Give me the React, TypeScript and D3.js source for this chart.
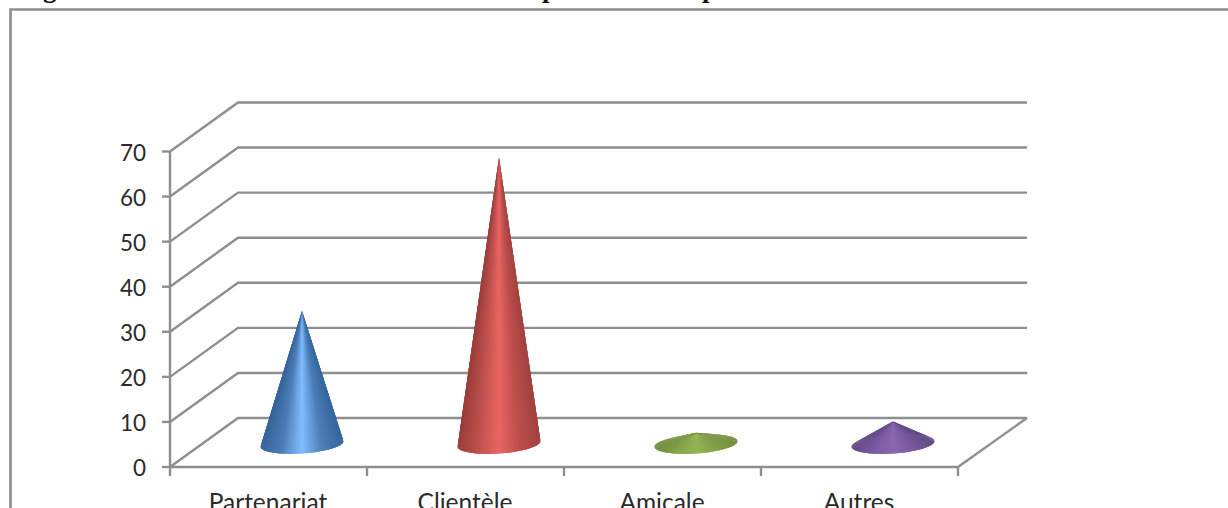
import React from "react";
import * as d3 from "d3";

// Chart values
const categories = ["Partenariat", "Clientèle", "Amicale", "Autres"];
const shares = [29.5, 63.5, 2.5, 5];
const yTicks = [0, 10, 20, 30, 40, 50, 60, 70];
const coneStops = [
  ["#35649a", "#4c7cb6", "#82bdff", "#4c7eb8", "#35659a"],
  ["#9a3c3a", "#bf514e", "#e96561", "#bd4f4c", "#a04240"],
  ["#718e3c", "#88a64c", "#94b356", "#86a34a", "#738f3e"],
  ["#644b86", "#7c5ca4", "#8a68b0", "#7a5ba0", "#634a85"],
];

const WIDTH = 1228;
const HEIGHT = 508;
const AXIS = "#8e8e8e";
const INK = "#2a2a2a";
const DEPTH_X = 69;
const DEPTH_Y = 49;
const BASE_RX = 41.5;
const BASE_RY = 9.5;
const BASE_TILT = (-4 * Math.PI) / 180;
const FACETS = 72;

const x = d3.scaleBand<string>().domain(categories).range([170, 958]);
const y = d3.scaleLinear().domain([0, 70]).range([467, 151.5]);

// Cones stand in the middle of the floor, half way to the back wall
const coneX = (c: string) => (x(c) as number) + x.bandwidth() / 2 + DEPTH_X / 2 - 1;
const coneY = (v: number) => y(v) - DEPTH_Y / 2 + 1.5;

const facetPath = d3.line();

// The cone is a fan of thin triangles from the tip to the tilted base ellipse,
// shaded by horizontal position so that the highlight narrows towards the tip.
// Each triangle overlaps the next rim step, which hides the seams between them.
function Cone({ category, value, index }: { category: string; value: number; index: number }) {
  const cx = coneX(category);
  const cy = coneY(0);
  const tip: [number, number] = [cx, coneY(value)];
  const shade = d3.piecewise(d3.interpolateRgb, coneStops[index]);
  const rim = (a: number): [number, number] => {
    const ex = BASE_RX * Math.cos(a);
    const ey = BASE_RY * Math.sin(a);
    return [
      cx + ex * Math.cos(BASE_TILT) - ey * Math.sin(BASE_TILT),
      cy + ex * Math.sin(BASE_TILT) + ey * Math.cos(BASE_TILT),
    ];
  };
  // Far half of the rim first, near half on top
  const order = [...d3.range(FACETS, FACETS * 2), ...d3.range(0, FACETS)];
  return (
    <g>
      {order.map((k) => {
        const a0 = (k / FACETS) * Math.PI;
        const a1 = ((k + 1) / FACETS) * Math.PI;
        const a2 = (Math.min(k + 2, k < FACETS ? FACETS : FACETS * 2) / FACETS) * Math.PI;
        const p0 = rim(a0);
        const p1 = rim(a1);
        const p2 = rim(a2);
        const u = ((p0[0] + p1[0]) / 2 - (cx - BASE_RX)) / (2 * BASE_RX);
        const c = shade(Math.min(1, Math.max(0, u)));
        return <path key={k} d={facetPath([tip, p0, p1, p2]) + "Z"} fill={c} />;
      })}
    </g>
  );
}

export default function App() {
  const [x0, x1] = x.range();
  return (
    <svg
      width={WIDTH}
      height={HEIGHT}
      viewBox={`0 0 ${WIDTH} ${HEIGHT}`}
      style={{ position: "fixed", left: 0, top: 0, background: "#fff" }}
    >
      {/* Heading cut off by the top edge: only descenders remain */}
      <g fontFamily="'Liberation Serif', serif" fontWeight="bold" fontSize={27} fill="#111">
        <text x={19} y={-3}>Figure</text>
        <text x={542} y={-3}>p</text>
        <text x={702} y={-3}>p</text>
      </g>

      {/* Chart area border, open to the right and bottom */}
      <path d={`M10.5 ${HEIGHT}V9.5H${WIDTH}`} fill="none" stroke="#8c8c8c" strokeWidth={2.6} />

      {/* Walls: diagonal on the left side, horizontal on the back */}
      <g fill="none" stroke={AXIS} strokeWidth={2.4}>
        {yTicks.map((t) => (
          <path
            key={t}
            d={`M${x0} ${y(t)}L${x0 + DEPTH_X - 1} ${y(t) - DEPTH_Y}H${x1 + DEPTH_X}`}
          />
        ))}
        <path d={`M${x1} ${y(0)}L${x1 + DEPTH_X} ${y(0) - DEPTH_Y}`} />
        <path d={`M${x0} ${y(0)}V${y(70)}`} />
        <path d={`M${x0} ${y(0)}H${x1}`} />
        {yTicks.map((t) => (
          <path key={t} d={`M${x0 - 8} ${y(t)}H${x0}`} />
        ))}
        {[...categories.map((c) => x(c) as number), x1].map((p) => (
          <path key={p} d={`M${p} ${y(0)}V${y(0) + 9}`} />
        ))}
      </g>

      {categories.map((c, i) => (
        <Cone key={c} category={c} value={shares[i]} index={i} />
      ))}

      <g fontFamily="Lato, sans-serif" fill={INK}>
        {yTicks.map((t) => (
          <text key={t} x={146} y={y(t)} dy="0.4em" textAnchor="end" fontSize={22.5}>
            {t}
          </text>
        ))}
        {categories.map((c) => (
          <text
            key={c}
            x={(x(c) as number) + x.bandwidth() / 2 - 0.5}
            y={511}
            textAnchor="middle"
            fontSize={24.5}
          >
            {c}
          </text>
        ))}
      </g>
    </svg>
  );
}
